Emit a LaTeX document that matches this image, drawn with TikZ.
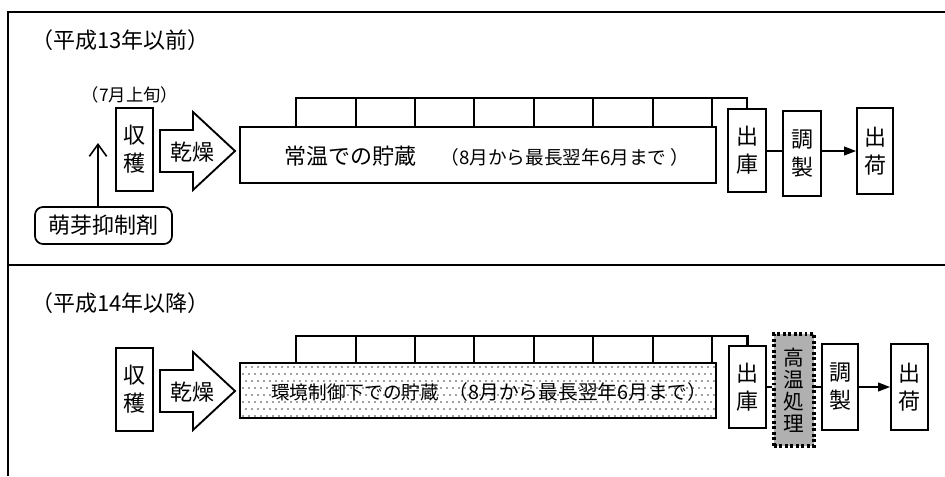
\documentclass[tikz,border=0pt]{standalone}
\usepackage{fontspec}
\setmainfont{Noto Sans CJK JP}
\usetikzlibrary{arrows.meta}
\begin{document}
\begin{tikzpicture}[x=0.75pt,y=-0.75pt,
  frame/.style={line width=1.2pt},
  vbox/.style={draw, line width=1.3pt, inner sep=0pt, align=center,
    font=\fontsize{16.5pt}{21pt}\selectfont},
  storebox/.style={draw, line width=1.4pt, inner sep=0pt},
  comb/.style={line width=1.8pt},
  heatbox/.style={draw, line width=2.6pt, dash pattern=on 2.2pt off 1.9pt, fill=gray!62,
    inner sep=0pt, align=center, font=\fontsize{15.5pt}{16.5pt}\selectfont},
  dryarrow/.style={draw, line width=1.4pt, fill=white},
  conn/.style={line width=1.3pt},
  arr/.style={line width=1.3pt, -{Triangle[length=9pt,width=6.5pt]}},
  uparr/.style={line width=1.2pt, -{Straight Barb[length=9pt,width=13pt,line width=1.2pt]}},
  bigtxt/.style={font=\fontsize{16.5pt}{18pt}\selectfont, inner sep=0pt},
  midtxt/.style={font=\fontsize{14pt}{16pt}\selectfont, inner sep=0pt},
  smalltxt/.style={font=\fontsize{13pt}{15pt}\selectfont, inner sep=0pt},
  suppbox/.style={draw, line width=1.3pt, rounded corners=6pt, inner sep=0pt,
    font=\fontsize{16.5pt}{18pt}\selectfont}
]
\useasboundingbox (0,0) rectangle (945,476);

% frame
\draw[frame] (8,476) -- (8,12) -- (945,12);
\draw[frame] (8,265) -- (945,265);

% ---------- row 1 ----------
\node[bigtxt, anchor=west] (title1) at (31,40) {（平成13年以前）};
\node[smalltxt] (t71) at (130,95) {（7月上旬）};

\node[vbox, minimum width=27.75pt, minimum height=62.25pt] (h1) at (134.5,149.5) {収\\穫};

\draw[dryarrow] (160,130) -- (193,130) -- (193,112) -- (235,151) -- (193,190) -- (193,172) -- (160,172) -- cycle;
\node[bigtxt] (dry1) at (192,152) {乾燥};

\node[storebox, minimum width=357pt, minimum height=42pt] (store1) at (478,155) {};
\node[bigtxt] (s1a) at (350,156) {常温での貯蔵};
\node[midtxt] (s1b) at (565,157) {（8月から最長翌年6月まで ）};

\node[vbox, minimum width=28.5pt, minimum height=62.25pt] (dep1) at (747,150.5) {出\\庫};
\node[vbox, minimum width=28.5pt, minimum height=63.75pt] (adj1) at (802,153.5) {調\\製};
\node[vbox, minimum width=27pt, minimum height=64.5pt] (ship1) at (875,151) {出\\荷};

% comb row 1
\coordinate (c1) at (296,98);
\draw[comb] (c1 |- store1.north) -- (c1) -| (dep1.north);
\foreach \xx in {356,415,474,534,593,653,712}
  \draw[comb] (\xx,98) -- (\xx,127);

\draw[conn] (dep1.east |- 0,151) -- (adj1.west |- 0,151);
\draw[arr] (adj1.east |- 0,151) -- (ship1.west |- 0,151);

\node[suppbox, minimum width=102.75pt, minimum height=27.75pt] (supp) at (103.5,225.5) {萌芽抑制剤};
\coordinate (uptip) at (98,143);
\draw[uparr] (supp.north -| uptip) -- (uptip);

% ---------- row 2 ----------
\node[bigtxt, anchor=west] (title2) at (31,303) {（平成14年以降）};

\node[vbox, minimum width=27.75pt, minimum height=62.25pt] (h2) at (134.5,389.5) {収\\穫};

\draw[dryarrow] (160,370) -- (193,370) -- (193,352) -- (235,391) -- (193,430) -- (193,412) -- (160,412) -- cycle;
\node[bigtxt] (dry2) at (192,392) {乾燥};

\node[storebox, minimum width=357pt, minimum height=41.25pt] (store2) at (478,390.5) {};
\begin{scope}
  \clip ([xshift=1pt,yshift=1pt]store2.south west) rectangle ([xshift=-1pt,yshift=-1pt]store2.north east);
  \foreach \yy [count=\i] in {367,374,...,418} {
    \pgfmathsetmacro{\off}{mod(\i,2)*3}
    \foreach \xx in {243,249,...,716}
      \fill[black!75] (\xx+\off,\yy) circle (0.62pt);
  }
\end{scope}
\node[midtxt] (s2a) at (355,392) {環境制御下での貯蔵};
\node[midtxt, font=\fontsize{14.8pt}{16pt}\selectfont] (s2b) at (578,392) {（8月から最長翌年6月まで）};

\node[vbox, minimum width=27.75pt, minimum height=61.5pt] (dep2) at (747.5,387) {出\\庫};
\node[heatbox, minimum width=30pt, minimum height=84pt] (heat) at (794,390) {高\\温\\処\\理};
\node[vbox, minimum width=27pt, minimum height=64.5pt] (adj2) at (840,387) {調\\製};
\node[vbox, minimum width=27.75pt, minimum height=64.5pt] (ship2) at (909.5,387) {出\\荷};

% comb row 2
\coordinate (c2) at (296,336);
\draw[comb] (c2 |- store2.north) -- (c2) -| (dep2.north);
\foreach \xx in {356,415,474,534,593,653,712}
  \draw[comb] (\xx,336) -- (\xx,363);

\draw[conn] (dep2.east) -- (dep2.east -| heat.west);
\draw[conn] (heat.east |- adj2.west) -- (adj2.west);
\draw[arr] (adj2.east) -- (ship2.west);
\end{tikzpicture}
\end{document}
